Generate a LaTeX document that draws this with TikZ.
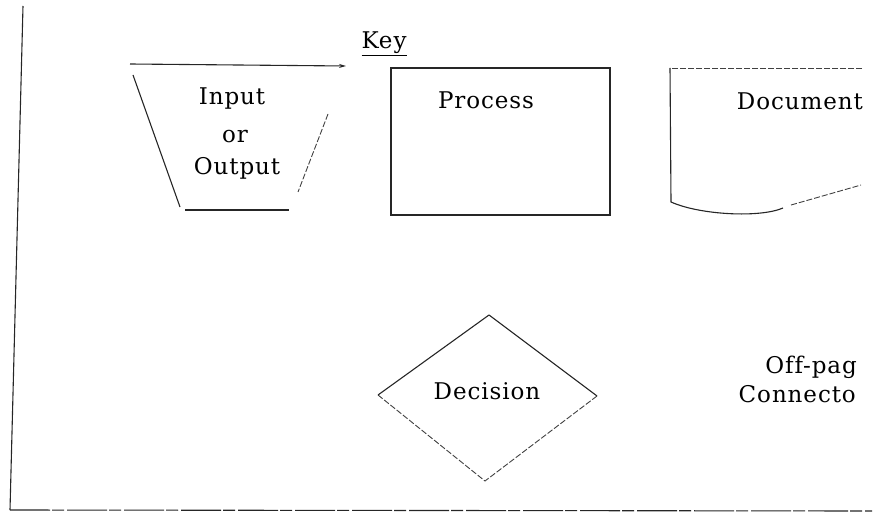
\documentclass[tikz,border=0pt]{standalone}
\usepackage{fontspec}
\setmainfont{DejaVu Serif}[LetterSpace=4,Ligatures=NoCommon]
\usetikzlibrary{arrows.meta}
\begin{document}
\begin{tikzpicture}[x=1pt,y=-1pt,
  ink/.style={line width=1.1pt,black!85},
  faint/.style={line width=0.9pt,black!75,dash pattern=on 6pt off 2pt},
  lbl/.style={inner sep=0pt,anchor=base,font=\fontsize{23}{26}\selectfont}]
\useasboundingbox (0,0) rectangle (882,529);
% frame lines
\coordinate (fTop) at (23,6);
\coordinate (fCorner) at (10,510);
\coordinate (fRight) at (872,511);
\draw[ink] (fTop) -- (fCorner);
\draw[ink,dash pattern=on 40pt off 2pt on 12pt off 3pt] (fCorner) -- (fRight);
% key title
\node[lbl] (key) at (384,49) {\underline{Key}};
% input/output trapezoid with top arrow
\coordinate (ioA) at (130,64);
\coordinate (ioB) at (346,66);
\draw[ink,-{Stealth[length=7pt,width=4pt]}] (ioA) -- (ioB);
\coordinate (ioTL) at (133,75);
\coordinate (ioBL) at (180,207);
\coordinate (ioBL2) at (185,210);
\coordinate (ioBR) at (289,210);
\coordinate (ioRT) at (328,114);
\coordinate (ioRB) at (298,192);
\draw[ink] (ioTL) -- (ioBL);
\draw[ink] (ioBL2) -- (ioBR);
\draw[faint] (ioRT) -- (ioRB);
\node[lbl] (in) at (232,105) {Input};
\node[lbl] (or) at (235,143) {or};
\node[lbl] (out) at (237,175) {Output};
% process
\coordinate (pTL) at (391,68);
\coordinate (pBR) at (610,215);
\draw[ink] (pTL) rectangle (pBR);
\node[lbl] (proc) at (486,109) {Process};
% document
\coordinate (dTR) at (862,68);
\coordinate (dTL) at (670,68);
\coordinate (dBL) at (671,202);
\coordinate (dMid) at (783,208);
\coordinate (dEnd) at (861,185);
\draw[faint] (dTR) -- (dTL);
\draw[ink] (dTL) -- (dBL) .. controls (700,215) and (760,218) .. (dMid);
\draw[faint] (dMid) ++(8,-3) -- (dEnd);
\node[lbl,anchor=base east] (doc) at (863,110) {Document};
% decision
\coordinate (dT) at (489,315);
\coordinate (dR) at (597,396);
\coordinate (dB) at (485,481);
\coordinate (dL) at (378,395);
\draw[ink] (dT) -- (dR);
\draw[faint] (dR) -- (dB) -- (dL);
\draw[ink] (dL) -- (dT);
\node[lbl] (dec) at (487,399) {Decision};
% off-page connector label
\node[lbl,anchor=base east] (off) at (857,373) {Off-pag};
\node[lbl,anchor=base east] (con) at (856,402) {Connecto};
\end{tikzpicture}
\end{document}
